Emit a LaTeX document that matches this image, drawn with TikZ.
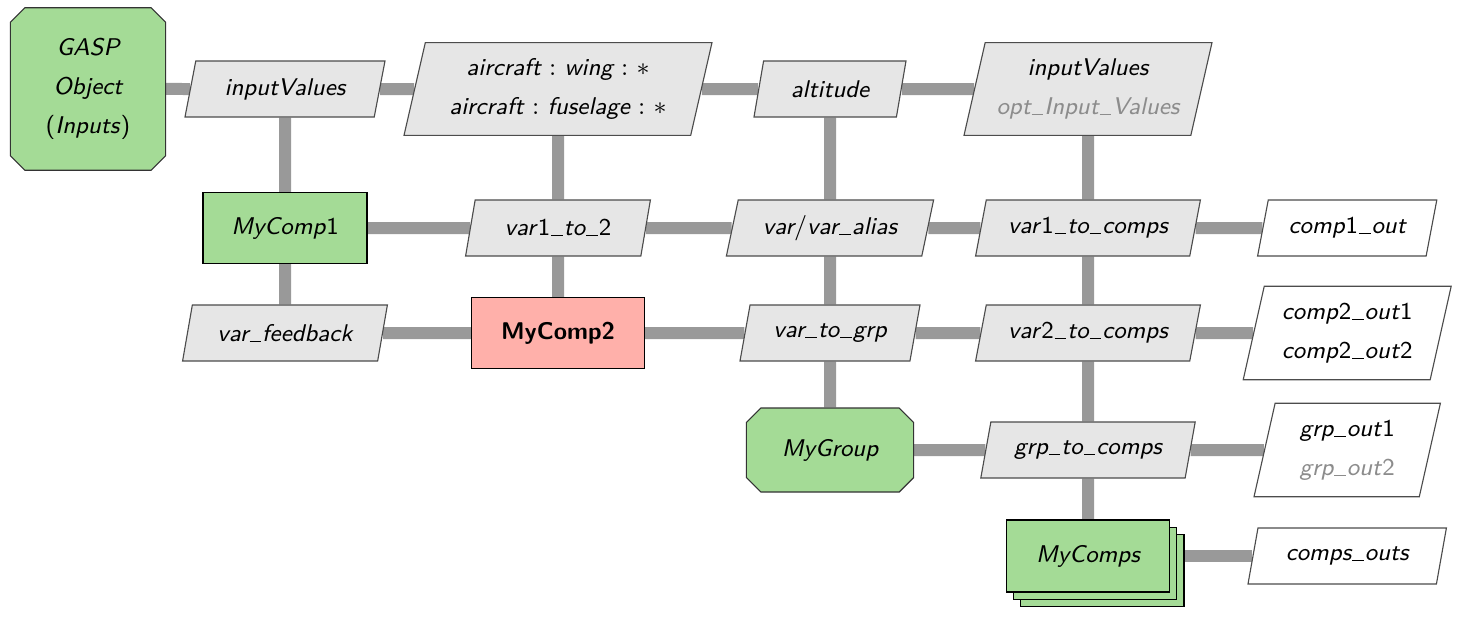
\documentclass[tikz,border=0pt]{standalone}
\usepackage{amsmath}
\usepackage{tikz}
\usetikzlibrary{calc}
\usetikzlibrary{positioning}
\usetikzlibrary{shapes.geometric,shapes.misc,shadows,backgrounds}
\definecolor{compgreen}{RGB}{164,219,150}
\definecolor{comppink}{RGB}{255,176,170}
\definecolor{datagray}{RGB}{230,230,230}
\definecolor{linegray}{RGB}{153,153,153}
\newcommand{\us}{\kern0.04em\rule[-0.2pt]{0.48em}{0.4pt}\kern0.04em}
\newcommand{\dg}[1]{\textup{#1}}

\begin{document}
\begin{tikzpicture}[
    font=\fontsize{8.6}{13.8}\selectfont\sffamily\itshape,
    comp/.style={draw=black, fill=compgreen, minimum height=0.89cm},
    grp/.style={draw=black!80, fill=compgreen, chamfered rectangle,
      chamfered rectangle xsep=0.09cm, chamfered rectangle ysep=0.09cm},
    data/.style={draw=black!70, fill=datagray, trapezium, trapezium left angle=75,
      trapezium right angle=105, trapezium stretches body, minimum height=0.7cm},
    outdata/.style={data, fill=white},
    link/.style={line width=0.15cm, linegray}
  ]
  \useasboundingbox (0,0) rectangle (18.35,7.725);
  % row 1
  \node[grp, minimum width=1.94cm, minimum height=2.03cm, align=center] (gasp) at (1.10,6.6125) {GASP\\Object\\\textup{(}Inputs\textup{)}};
  \node[data, minimum width=2.5cm] (inval) at (3.5625,6.6125) {inputValues};
  \node[data, minimum width=3.85cm, minimum height=1.16cm, align=center] (acft) at (6.975,6.6125) {aircraft $:$ wing $:$ $*$\\aircraft $:$ fuselage $:$ $*$};
  \node[data, minimum width=1.9cm] (alt) at (10.375,6.6125) {altitude};
  \node[data, minimum width=3.1cm, minimum height=1.16cm, align=center] (optval) at (13.6,6.6125) {inputValues\\\textcolor{black!45}{opt\us Input\us Values}};
  % row 2
  \node[comp, minimum width=2.05cm] (comp1) at (3.5625,4.875) {MyComp\dg{1}};
  \node[data, minimum width=2.31cm] (v12) at (6.975,4.875) {var\dg{1}\us to\us\dg{2}};
  \node[data, minimum width=2.59cm] (valias) at (10.375,4.875) {var$/$var\us alias};
  \node[data, minimum width=2.81cm] (v1c) at (13.6,4.875) {var\dg{1}\us to\us comps};
  \node[outdata, minimum width=2.24cm] (c1out) at (16.84,4.875) {comp\dg{1}\us out};
  % row 3
  \node[data, minimum width=2.56cm] (vfb) at (3.5625,3.5625) {var\us feedback};
  \node[comp, fill=comppink, minimum width=2.16cm, font=\fontsize{8.6}{13.8}\selectfont\sffamily\bfseries\upshape] (comp2) at (6.975,3.5625) {MyComp2};
  \node[data, minimum width=2.25cm] (v2g) at (10.375,3.5625) {var\us to\us grp};
  \node[data, minimum width=2.81cm] (v2c) at (13.6,3.5625) {var\dg{2}\us to\us comps};
  \node[outdata, minimum width=2.6cm, minimum height=1.17cm, align=center] (c2out) at (16.84,3.5625) {comp\dg{2}\us out\dg{1}\\comp\dg{2}\us out\dg{2}};
  % row 4
  \node[grp, minimum width=2.09cm, minimum height=1.05cm] (mygrp) at (10.375,2.1) {MyGroup};
  \node[data, minimum width=2.68cm] (g2c) at (13.6,2.1) {grp\us to\us comps};
  \node[outdata, minimum width=2.33cm, minimum height=1.17cm, align=center] (gout) at (16.84,2.1) {grp\us out\dg{1}\\\textcolor{black!45}{grp\us out\dg{2}}};
  % row 5
  \node[comp, double copy shadow={shadow xshift=0.09cm, shadow yshift=-0.09cm}, minimum width=2.04cm, minimum height=0.9cm] (comps) at (13.6,0.775) {MyComps};
  \node[outdata, minimum width=2.48cm] (csout) at (16.84,0.775) {comps\us outs};

  \begin{scope}[on background layer]
    \draw[link] (gasp) -- (inval) -- (acft) -- (alt) -- (optval);
    \draw[link] (comp1) -- (v12) -- (valias) -- (v1c) -- (c1out);
    \draw[link] (vfb) -- (comp2) -- (v2g) -- (v2c) -- (c2out);
    \draw[link] (mygrp) -- (g2c) -- (gout);
    \draw[link] (comps) -- (csout);
    \draw[link] (inval) -- (comp1) -- (vfb);
    \draw[link] (acft) -- (v12) -- (comp2);
    \draw[link] (alt) -- (valias) -- (v2g) -- (mygrp);
    \draw[link] (optval) -- (v1c) -- (v2c) -- (g2c) -- (comps);
  \end{scope}
\end{tikzpicture}
\end{document}
